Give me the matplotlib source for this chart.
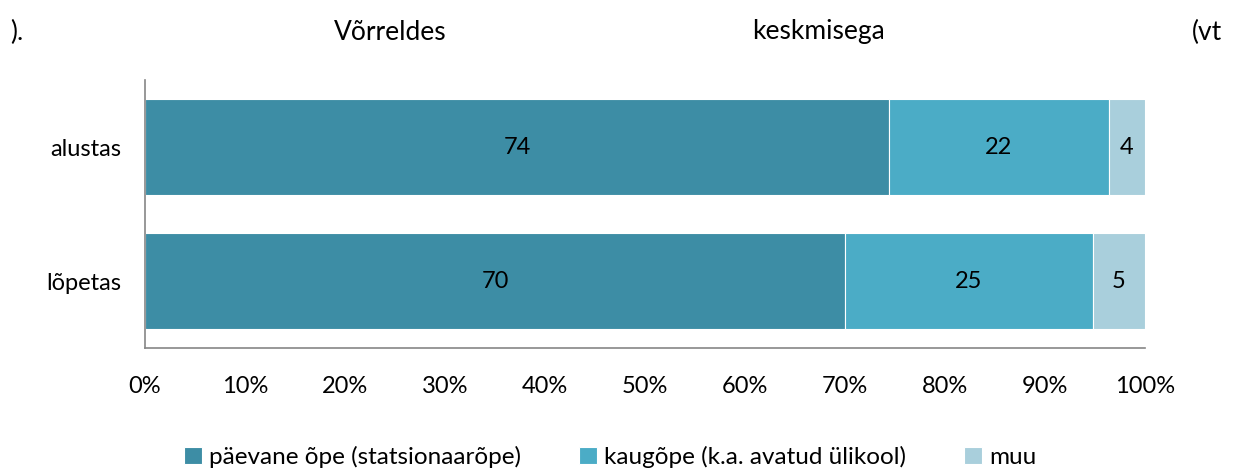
import matplotlib
matplotlib.use("Agg")
import matplotlib.pyplot as plt
import numpy as np

categories = ["alustas", "lõpetas"]
series_names = ["päevane õpe (statsionaarõpe)", "kaugõpe (k.a. avatud ülikool)", "muu"]
paevane = [74.4, 70.0]
kaugope = [22.0, 24.8]
muu = [3.6, 5.2]
xticks = [0, 10, 20, 30, 40, 50, 60, 70, 80, 90, 100]
xticklabels = [f"{v}%" for v in xticks]

colors = ["#3D8DA5", "#4BACC6", "#A9CFDC"]

plt.rcParams['font.family'] = ['Lato', 'DejaVu Sans']
FS = 17

fig = plt.figure(figsize=(12.33, 4.71), dpi=100)
ax = fig.add_axes([145/1233, 1-348/471, 1000/1233, 268/471])

ypos = [1, 0]
left = np.zeros(2)
for name, vals, c in zip(series_names, [paevane, kaugope, muu], colors):
    ax.barh(ypos, vals, left=left, height=0.71, color=c, edgecolor="white",
            linewidth=0.8, label=name)
    for y, l, v in zip(ypos, left, vals):
        ax.text(l + v/2, y, f"{v:.0f}", ha="center", va="center", fontsize=FS, color="black")
    left = left + np.array(vals)

ax.set_xlim(0, 100)
ax.set_ylim(-0.5, 1.5)
ax.set_yticks(ypos)
ax.set_yticklabels(categories, fontsize=FS)
ax.set_xticks(xticks)
ax.set_xticklabels(xticklabels, fontsize=FS)
ax.tick_params(axis="both", length=0)
ax.tick_params(axis="x", pad=20)
ax.tick_params(axis="y", pad=17)
for s in ["top", "right"]:
    ax.spines[s].set_visible(False)
for s in ["left", "bottom"]:
    ax.spines[s].set_color("#868686")
    ax.spines[s].set_linewidth(1.2)

TS = 19
fig.text(10/1233, 1-32/471, ").", fontsize=TS, va="center", ha="left")
fig.text(390/1233, 1-32/471, "Võrreldes", fontsize=TS, va="center", ha="center")
fig.text(818/1233, 1-32/471, "keskmisega", fontsize=TS, va="center", ha="center")
fig.text(1207/1233, 1-32/471, "(vt", fontsize=TS, va="center", ha="center")

fig.legend(loc="center", bbox_to_anchor=(0.495, 1-457/471), ncol=3, frameon=False,
           fontsize=17.5, handlelength=0.72, handleheight=0.72, handletextpad=0.3,
           columnspacing=2.4)

fig.savefig("out.png", dpi=100)
